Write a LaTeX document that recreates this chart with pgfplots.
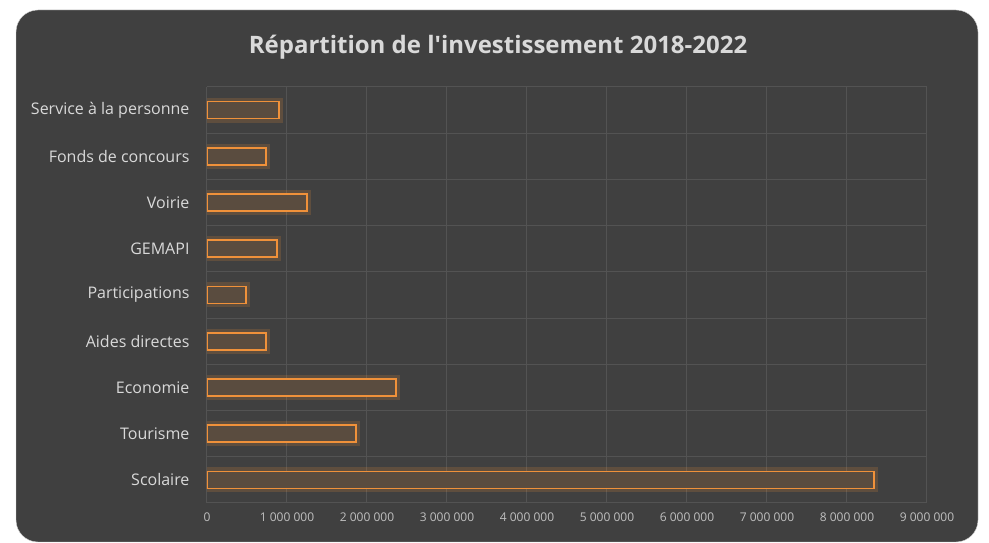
\documentclass[border=0pt]{standalone}
\usepackage{fontspec}
\setmainfont{Open Sans}
\usepackage{pgfplots}
\pgfplotsset{compat=1.18}
\definecolor{panel}{HTML}{404040}
\definecolor{gridc}{HTML}{535353}
\definecolor{barorange}{HTML}{F0913A}
\definecolor{txt}{HTML}{D9D9D9}
\definecolor{ticktxt}{HTML}{BFBFBF}

\begin{document}
\begin{tikzpicture}[x=1pt,y=1pt]
  \useasboundingbox (0,0) rectangle (989,543);
  \fill[white] (0,0) rectangle (989,543);
  \draw[draw=black!15, fill=panel, rounded corners=22pt] (16,1) rectangle (978,533);
  \node[text=txt, font=\fontsize{24}{28}\selectfont\bfseries\addfontfeatures{Ligatures=TeXOff}] at (498,496) {Répartition de l'investissement 2018-2022};
  \begin{axis}[
    at={(207pt,40pt)}, anchor=south west,
    scale only axis,
    width=720pt, height=416pt,
    xmin=0, xmax=9000000,
    ymin=-0.5, ymax=8.5,
    scaled x ticks=false,
    xtick={0,1000000,2000000,3000000,4000000,5000000,6000000,7000000,8000000,9000000},
    xticklabels={0,1 000 000,2 000 000,3 000 000,4 000 000,5 000 000,6 000 000,7 000 000,8 000 000,9 000 000},
    ytick={0,1,2,3,4,5,6,7,8},
    yticklabels={Scolaire,Tourisme,Economie,Aides directes,Participations,GEMAPI,Voirie,Fonds de concours,Service à la personne},
    extra y ticks={-0.5,0.5,1.5,2.5,3.5,4.5,5.5,6.5,7.5,8.5},
    extra y tick labels={},
    extra y tick style={grid=major, major grid style={gridc, line width=1pt}},
    xmajorgrids=true,
    major grid style={gridc, line width=1pt},
    axis line style={draw=none},
    major tick length=0pt,
    tick style={draw=none},
    xticklabel style={text=ticktxt, font=\fontsize{12}{14}\selectfont},
    yticklabel style={text=txt, font=\fontsize{16}{19}\selectfont},
    yticklabel shift=14pt,
    xticklabel shift=6pt,
    xbar, bar width=17pt, bar shift=0pt,
  ]
  % glow
  \addplot[draw=barorange, draw opacity=0.18, line width=8pt, fill=none] coordinates {
    (8340000,0) (1860000,1) (2360000,2) (740000,3) (490000,4)
    (875000,5) (1250000,6) (740000,7) (900000,8)
  };
  \addplot[draw=barorange, line width=1.6pt, fill=panel!85!barorange] coordinates {
    (8340000,0) (1860000,1) (2360000,2) (740000,3) (490000,4)
    (875000,5) (1250000,6) (740000,7) (900000,8)
  };
  \end{axis}
\end{tikzpicture}
\end{document}
